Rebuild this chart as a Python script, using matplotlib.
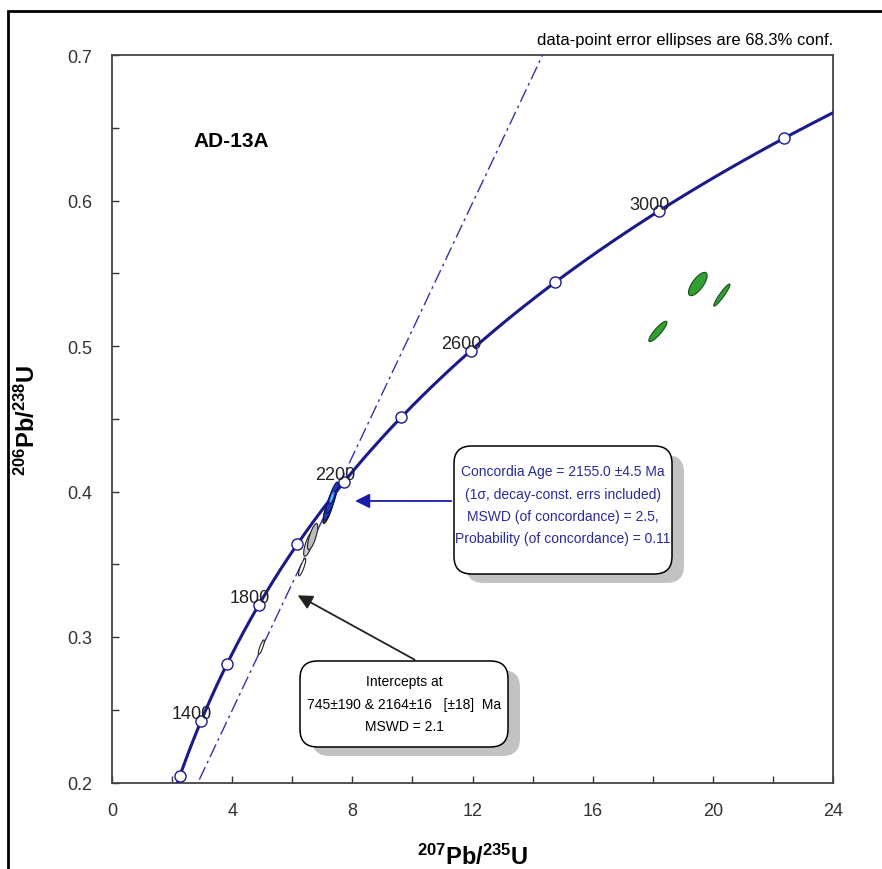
import numpy as np
import matplotlib
matplotlib.use('Agg')
import matplotlib.pyplot as plt
from matplotlib.patches import FancyBboxPatch, Rectangle, Polygon

plt.rcParams['font.family'] = ['Liberation Sans', 'DejaVu Sans']
plt.rcParams['mathtext.fontset'] = 'custom'
plt.rcParams['mathtext.rm'] = 'Liberation Sans'
plt.rcParams['mathtext.bf'] = 'Liberation Sans:bold'
plt.rcParams['mathtext.default'] = 'regular'

# decay constants (1/yr)
L238 = 1.55125e-10
L235 = 9.8485e-10

# concordia markers / labels (Ma)
marker_ages = [1200, 1400, 1600, 1800, 2000, 2200, 2400, 2600, 2800, 3000, 3200]
label_ages = [1400, 1800, 2200, 2600, 3000]

# discordia intercepts (Ma)
lower_int = 745
upper_int = 2164

# data-point ellipses: x, y, sx, sy, rho
grey_x = [4.97, 6.33, 6.55, 6.68, 7.18]
grey_y = [0.293, 0.348, 0.364, 0.369, 0.386]
grey_sx = [0.10, 0.12, 0.17, 0.17, 0.16]
grey_sy = [0.005, 0.006, 0.0085, 0.009, 0.008]
grey_rho = [0.85, 0.85, 0.75, 0.75, 0.8]
grey_fill = ['white', 'white', '#cccccc', '#bbbbbb', '#333333']

blue_x = [7.22, 7.30, 7.38]
blue_y = [0.389, 0.394, 0.399]
blue_sx = [0.18, 0.18, 0.15]
blue_sy = [0.0085, 0.009, 0.0075]
blue_rho = [0.8, 0.8, 0.8]

green_x = [18.17, 19.5, 20.3]
green_y = [0.510, 0.5426, 0.535]
green_sx = [0.30, 0.31, 0.27]
green_sy = [0.0070, 0.0080, 0.0076]
green_rho = [0.88, 0.72, 0.94]

# concordia age ellipse
cage_x, cage_y = 7.32, 0.396


def conc(t_ma):
    t = np.asarray(t_ma) * 1e6
    return np.exp(L235 * t) - 1, np.exp(L238 * t) - 1


def ellipse(ax, x, y, sx, sy, rho, fc, ec, lw=0.8, z=3):
    t = np.linspace(0, 2 * np.pi, 100)
    ex = x + sx * np.cos(t)
    ey = y + sy * (rho * np.cos(t) + np.sqrt(1 - rho ** 2) * np.sin(t))
    ax.add_patch(Polygon(np.column_stack([ex, ey]), closed=True, fc=fc, ec=ec, lw=lw, zorder=z))


W, H = 882, 870
fig = plt.figure(figsize=(8.82, 8.70), dpi=100)
ax = fig.add_axes([112 / W, 1 - 783.5 / H, (833 - 112) / W, (783.5 - 56) / H])


def fx(px, py):
    return px / W, 1 - py / H


navy = '#1a1a8a'

# concordia curve
ages = np.linspace(1000, 3600, 400)
cx, cy = conc(ages)
ax.plot(cx, cy, color=navy, lw=2.2, zorder=4)
mx, my = conc(marker_ages)
ax.plot(mx, my, 'o', ms=8, mfc='white', mec=navy, mew=1.0, zorder=5)
for a in label_ages:
    lx, ly = conc(a)
    ax.annotate(str(a), (lx, ly), xytext=(8, -1), textcoords='offset points',
                ha='right', va='bottom', fontsize=13, color='#222222', zorder=6)

# discordia
x1, y1 = conc(lower_int)
x2, y2 = conc(upper_int)
slope = (y2 - y1) / (x2 - x1)
dx = np.array([0, 24])
ax.plot(dx, y1 + slope * (dx - x1), color='#3333aa', lw=1.0, ls=(0, (10, 3, 2, 3)), zorder=3)

# ellipses
for i in range(len(grey_x)):
    ellipse(ax, grey_x[i], grey_y[i], grey_sx[i], grey_sy[i], grey_rho[i], grey_fill[i], '#222222')
for i in range(len(blue_x)):
    ellipse(ax, blue_x[i], blue_y[i], blue_sx[i], blue_sy[i], blue_rho[i], '#1c3fb0', '#101060')
ellipse(ax, cage_x, cage_y, 0.07, 0.0035, 0.85, '#66ccff', '#3399cc', lw=0.5, z=6)
for i in range(len(green_x)):
    ellipse(ax, green_x[i], green_y[i], green_sx[i], green_sy[i], green_rho[i], '#33a033', '#1a4d1a')

ax.set_xlim(0, 24)
ax.set_ylim(0.2, 0.7)
ax.set_xticks(np.arange(0, 25, 4))
ax.set_xticks(np.arange(0, 25, 2), minor=True)
ax.set_yticks(np.arange(0.2, 0.71, 0.1))
ax.set_yticks(np.arange(0.2, 0.71, 0.05), minor=True)
ax.set_yticklabels(['0.2', '0.3', '0.4', '0.5', '0.6', '0.7'])
ax.tick_params(which='both', direction='in', length=5, width=1, labelsize=13,
               top=False, right=False, colors='#333333', labelcolor='#333333')
ax.tick_params(axis='x', pad=14)
ax.tick_params(axis='y', pad=14)
for s in ax.spines.values():
    s.set_color('#444444')
    s.set_linewidth(1.3)

ax.set_xlabel(r'$^{207}$Pb/$^{235}$U', fontsize=17, fontweight='bold')
ax.set_ylabel(r'$^{206}$Pb/$^{238}$U', fontsize=17, fontweight='bold')
ax.xaxis.set_label_coords((473 - 112) / 721, -(845 - 783.5) / 727.5)
ax.yaxis.set_label_coords((40 - 112) / 721, (783.5 - 420) / 727.5)

ax.text(2.7, 0.641, 'AD-13A', fontsize=15, fontweight='bold', va='center', ha='left')
fig.text(833 / W, 1 - 40 / H, 'data-point error ellipses are 68.3% conf.', ha='right',
         va='center', fontsize=12)


# info boxes with shadows
def box(l, t, r, b, txt, col, ys):
    sh = FancyBboxPatch(fx(l + 12, b + 9), (r - l) / W, (b - t) / H,
                        boxstyle='round,pad=0,rounding_size=0.02', transform=fig.transFigure,
                        fc='#9a9a9a', ec='none', alpha=0.6, zorder=1)
    bx = FancyBboxPatch(fx(l, b), (r - l) / W, (b - t) / H,
                        boxstyle='round,pad=0,rounding_size=0.02', transform=fig.transFigure,
                        fc='white', ec='black', lw=1.1, zorder=2)
    fig.add_artist(sh)
    fig.add_artist(bx)
    for line, y in zip(txt, ys):
        fig.text((l + r) / 2 / W, 1 - y / H, line, ha='center', va='center', fontsize=10,
                 color=col, zorder=3)


box(454, 447, 672, 575,
    ['Concordia Age = 2155.0 \u00b14.5 Ma', '(1\u03c3, decay-const. errs included)',
     'MSWD (of concordance) = 2.5,', 'Probability (of concordance) = 0.11'],
    '#2a2a9a', [472, 495, 517, 539])
box(300, 662, 508, 748,
    ['Intercepts at', '745\u00b1190 & 2164\u00b116   [\u00b118]  Ma', 'MSWD = 2.1'],
    'black', [682, 705, 727])

# arrows
ax.annotate('', xy=(8.0, 0.3935), xytext=fx(454, 502), textcoords='figure fraction',
            arrowprops=dict(arrowstyle='-|>', color='#1a1aaa', lw=1.3, mutation_scale=22))
ax.annotate('', xy=(6.1, 0.3296), xytext=fx(417, 662), textcoords='figure fraction',
            arrowprops=dict(arrowstyle='-|>', color='#222222', lw=1.3, mutation_scale=22))

# outer frame (cropped at right/bottom)
fig.add_artist(Rectangle(fx(8, 900), 1.0, 888 / H, transform=fig.transFigure,
                         fc='none', ec='black', lw=2))

fig.savefig('out.png', dpi=100)
